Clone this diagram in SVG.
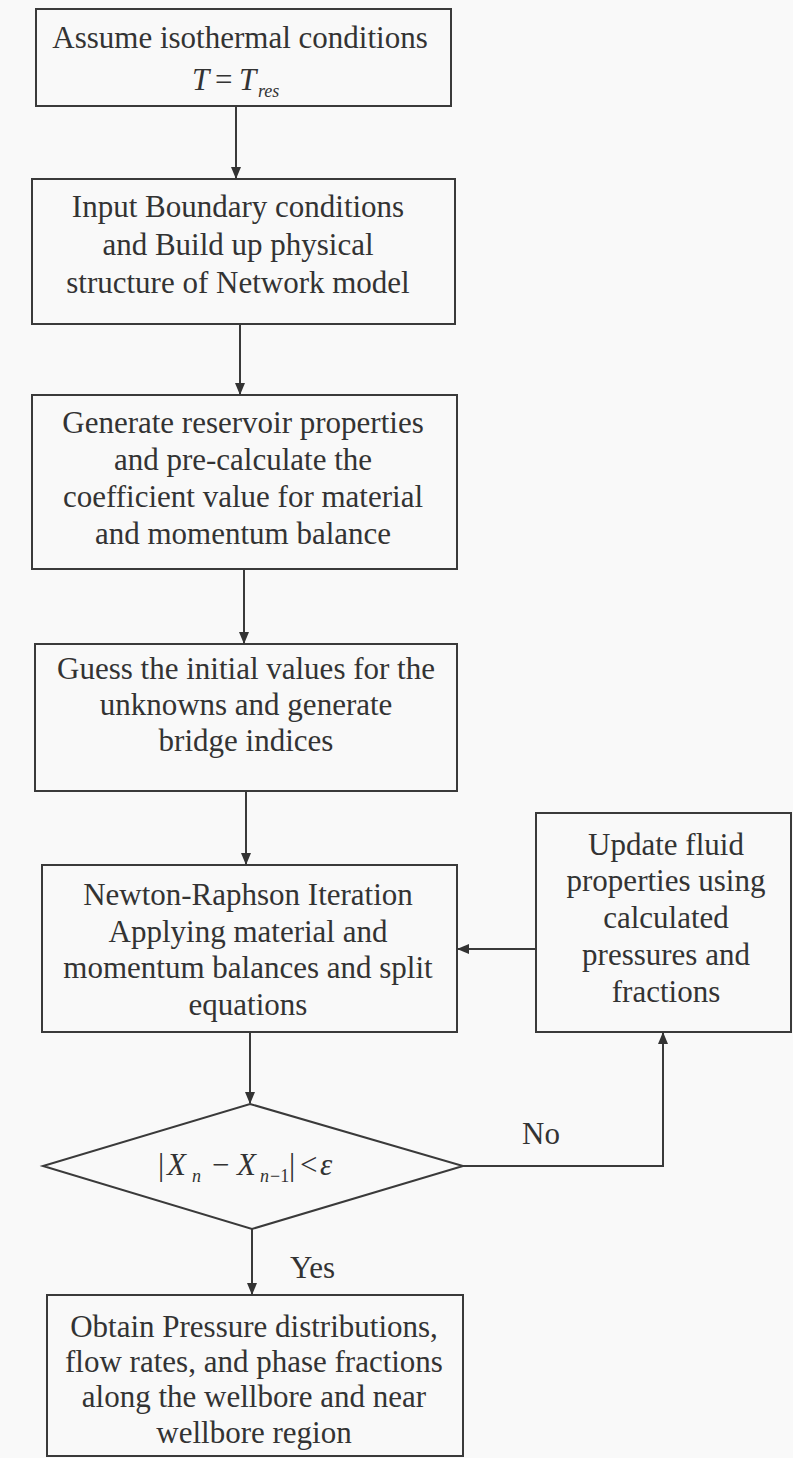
<svg xmlns="http://www.w3.org/2000/svg" width="793" height="1458" viewBox="0 0 793 1458">
<defs>
<marker id="ah" viewBox="0 0 12 12" refX="11" refY="6" markerWidth="12" markerHeight="12" markerUnits="userSpaceOnUse" orient="auto">
<path d="M0,1 L12,6 L0,11 Z" fill="#333"/>
</marker>
<style>
.box{fill:none;stroke:#3a3a3a;stroke-width:2}
.t{font-family:"Liberation Serif","Times New Roman",serif;font-size:31px;fill:#333;text-anchor:middle}
.m{font-family:"Liberation Serif","Times New Roman",serif;font-size:31px;fill:#333}
.i{font-style:italic}
.s{font-size:18px}
.c{fill:none;stroke:#3a3a3a;stroke-width:2}
</style>
</defs>
<rect x="0" y="0" width="793" height="1458" fill="#f9f9f9"/>
<g id="n1">
<rect class="box" x="36" y="9" width="415" height="97"/>
<text class="t" x="240" y="48">Assume isothermal conditions</text>
<text class="m" y="90"><tspan class="i" x="192">T</tspan><tspan x="215">=</tspan><tspan class="i" x="239">T</tspan><tspan class="i s" x="258" y="97">res</tspan></text>
</g>
<g id="n2">
<rect class="box" x="32" y="179" width="423" height="145"/>
<text class="t" x="238" y="217">Input Boundary conditions</text>
<text class="t" x="238" y="255">and Build up physical</text>
<text class="t" x="238" y="293">structure of Network model</text>
</g>
<g id="n3">
<rect class="box" x="32" y="395" width="425" height="174"/>
<text class="t" x="243" y="433">Generate reservoir properties</text>
<text class="t" x="243" y="470">and pre-calculate the</text>
<text class="t" x="243" y="507">coefficient value for material</text>
<text class="t" x="243" y="544">and momentum balance</text>
</g>
<g id="n4">
<rect class="box" x="35" y="644" width="422" height="147"/>
<text class="t" x="246" y="679">Guess the initial values for the</text>
<text class="t" x="246" y="715">unknowns and generate</text>
<text class="t" x="246" y="751">bridge indices</text>
</g>
<g id="n5">
<rect class="box" x="42" y="865" width="415" height="167"/>
<text class="t" x="248" y="905">Newton-Raphson Iteration</text>
<text class="t" x="248" y="942">Applying material and</text>
<text class="t" x="248" y="978">momentum balances and split</text>
<text class="t" x="248" y="1015">equations</text>
</g>
<g id="n6">
<rect class="box" x="536" y="813" width="255" height="219"/>
<text class="t" x="666" y="855">Update fluid</text>
<text class="t" x="666" y="891">properties using</text>
<text class="t" x="666" y="928">calculated</text>
<text class="t" x="666" y="965">pressures and</text>
<text class="t" x="666" y="1002">fractions</text>
</g>
<g id="n7">
<polygon class="box" points="250,1104 463,1166 252,1229 43,1166"/>
<text class="m" y="1175"><tspan x="158">|</tspan><tspan class="i" x="167">X</tspan><tspan class="i s" x="192" y="1182">n</tspan><tspan x="212" y="1175">−</tspan><tspan class="i" x="237">X</tspan><tspan class="i s" x="260" y="1182">n</tspan><tspan class="s" x="270" y="1182">−1</tspan><tspan x="289" y="1175">|</tspan><tspan x="300">&lt;</tspan><tspan class="i" x="320">ε</tspan></text>
</g>
<g id="n8">
<rect class="box" x="47" y="1295" width="416" height="161"/>
<text class="t" x="254" y="1337">Obtain Pressure distributions,</text>
<text class="t" x="254" y="1372">flow rates, and phase fractions</text>
<text class="t" x="254" y="1407">along the wellbore and near</text>
<text class="t" x="254" y="1443">wellbore region</text>
</g>
<g id="connectors">
<line class="c" x1="236" y1="106" x2="236" y2="178" marker-end="url(#ah)"/>
<line class="c" x1="240" y1="324" x2="240" y2="394" marker-end="url(#ah)"/>
<line class="c" x1="244" y1="569" x2="244" y2="643" marker-end="url(#ah)"/>
<line class="c" x1="246" y1="791" x2="246" y2="864" marker-end="url(#ah)"/>
<line class="c" x1="250" y1="1032" x2="250" y2="1103" marker-end="url(#ah)"/>
<line class="c" x1="252" y1="1229" x2="252" y2="1294" marker-end="url(#ah)"/>
<polyline class="c" points="463,1166 663,1166 663,1033" marker-end="url(#ah)"/>
<line class="c" x1="536" y1="949" x2="458" y2="949" marker-end="url(#ah)"/>
<text class="m" x="522" y="1144">No</text>
<text class="m" x="290" y="1278">Yes</text>
</g>
</svg>
